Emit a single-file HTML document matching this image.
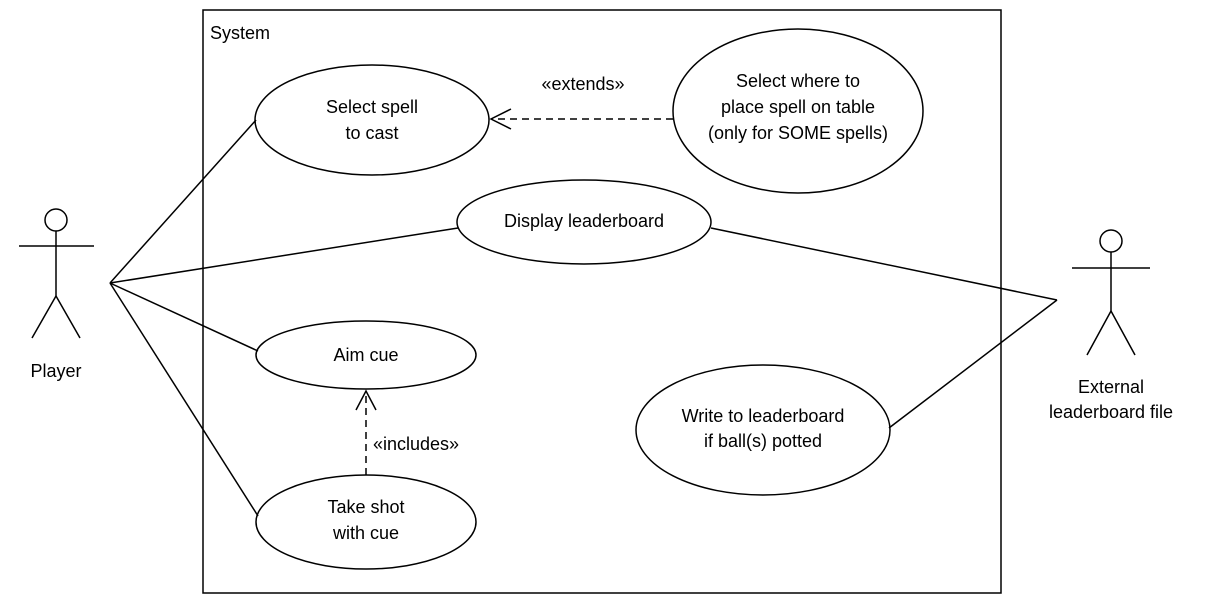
<!DOCTYPE html>
<html><head><meta charset="utf-8"><style>
html,body{margin:0;padding:0;background:#fff;}
svg{display:block;}
text{font-family:"Liberation Sans","DejaVu Sans",sans-serif;font-size:18px;fill:#000;}
</style></head><body>
<svg width="1205" height="613" viewBox="0 0 1205 613" xmlns="http://www.w3.org/2000/svg">
<g fill="none" stroke="#000" stroke-width="1.5">
<rect x="203" y="10" width="798" height="583"/>
<ellipse cx="372" cy="120" rx="117" ry="55"/>
<ellipse cx="798" cy="111" rx="125" ry="82"/>
<ellipse cx="584" cy="222" rx="127" ry="42"/>
<ellipse cx="366" cy="355" rx="110" ry="34"/>
<ellipse cx="366" cy="522" rx="110" ry="47"/>
<ellipse cx="763" cy="430" rx="127" ry="65"/>
<circle cx="56" cy="220" r="11"/>
<line x1="56" y1="231" x2="56" y2="296"/>
<line x1="19" y1="246" x2="94" y2="246"/>
<line x1="56" y1="296" x2="32" y2="338"/>
<line x1="56" y1="296" x2="80" y2="338"/>
<circle cx="1111" cy="241" r="11"/>
<line x1="1111" y1="252" x2="1111" y2="311"/>
<line x1="1072" y1="268" x2="1150" y2="268"/>
<line x1="1111" y1="311" x2="1087" y2="355"/>
<line x1="1111" y1="311" x2="1135" y2="355"/>
<line x1="110" y1="283" x2="256" y2="120"/>
<line x1="110" y1="283" x2="458" y2="228"/>
<line x1="110" y1="283" x2="258" y2="351"/>
<line x1="110" y1="283" x2="258" y2="516"/>
<line x1="1057" y1="300" x2="711" y2="228"/>
<line x1="1057" y1="300" x2="889" y2="428"/>
<line x1="673" y1="119" x2="491" y2="119" stroke-dasharray="7,5"/>
<polyline points="511,109 491,119 511,129"/>
<line x1="366" y1="475" x2="366" y2="391" stroke-dasharray="7,5"/>
<polyline points="356,410 366,391 376,410"/>
</g>
<text x="210" y="39">System</text>
<text x="372" y="113" text-anchor="middle">Select spell</text>
<text x="372" y="139" text-anchor="middle">to cast</text>
<text x="798" y="87" text-anchor="middle">Select where to</text>
<text x="798" y="113" text-anchor="middle">place spell on table</text>
<text x="798" y="139" text-anchor="middle">(only for SOME spells)</text>
<text x="583" y="90" text-anchor="middle">«extends»</text>
<text x="584" y="227" text-anchor="middle">Display leaderboard</text>
<text x="366" y="361" text-anchor="middle">Aim cue</text>
<text x="373" y="450">«includes»</text>
<text x="366" y="513" text-anchor="middle">Take shot</text>
<text x="366" y="539" text-anchor="middle">with cue</text>
<text x="763" y="422" text-anchor="middle">Write to leaderboard</text>
<text x="763" y="447" text-anchor="middle">if ball(s) potted</text>
<text x="56" y="377" text-anchor="middle">Player</text>
<text x="1111" y="393" text-anchor="middle">External</text>
<text x="1111" y="418" text-anchor="middle">leaderboard file</text>
</svg>
</body></html>
